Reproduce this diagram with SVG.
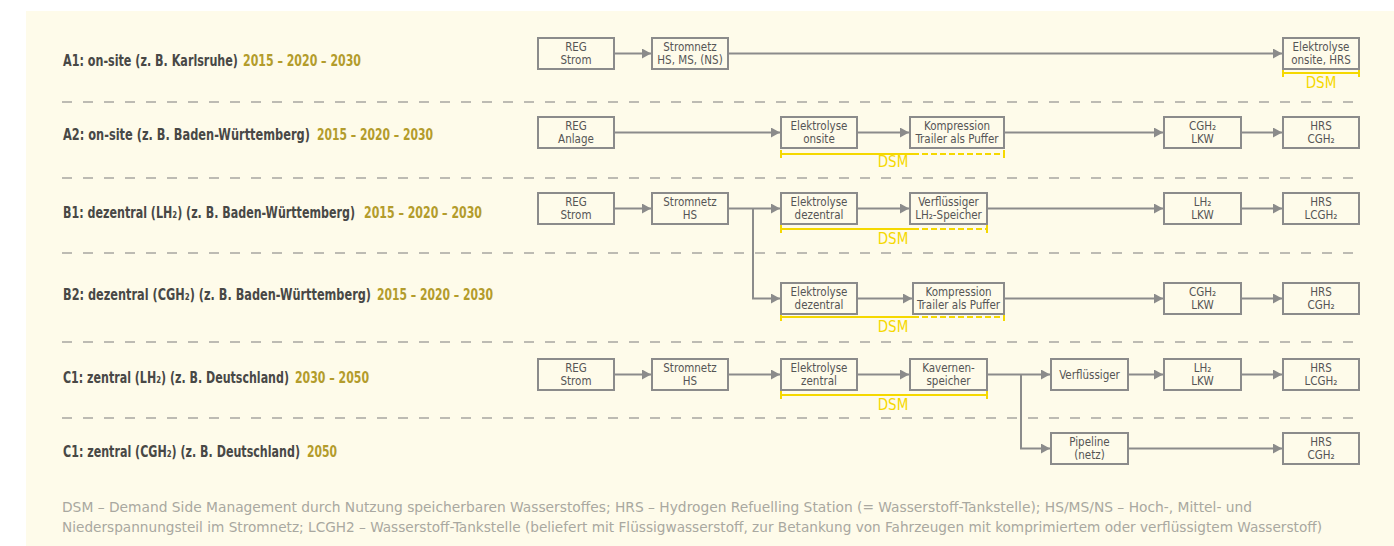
<svg xmlns="http://www.w3.org/2000/svg" width="1394" height="546" viewBox="0 0 1394 546">
<style>
.bg{fill:#FEFBEA}
.sep{stroke:#BDBBB3;stroke-width:2;stroke-dasharray:10 11;fill:none}
.lbl{font-family:"Liberation Sans Narrow","DejaVu Sans Condensed","Liberation Sans",sans-serif;font-size:15px;font-weight:bold;fill:#484846}
.yr{font-family:"Liberation Sans Narrow","DejaVu Sans Condensed","Liberation Sans",sans-serif;font-size:15px;font-weight:bold;fill:#B39C2C}
.box{fill:#FEFBEA;stroke:#8B8B8B;stroke-width:2}
.bt{font-family:"Liberation Sans Narrow","DejaVu Sans Condensed","Liberation Sans",sans-serif;font-size:11.5px;fill:#555555;text-anchor:middle}
.con{stroke:#8B8B8B;stroke-width:2;fill:none}
.arr{marker-end:url(#ah)}
.dsm{stroke:#F5D800;stroke-width:2;fill:none}
.dsmd{stroke:#F5D800;stroke-width:2;fill:none;stroke-dasharray:6 3}
.dsmt{font-family:"Liberation Sans Narrow","DejaVu Sans Condensed","Liberation Sans",sans-serif;font-size:15px;fill:#F5D800;text-anchor:middle}
.ft{font-family:"Liberation Sans Narrow","DejaVu Sans Condensed","Liberation Sans",sans-serif;font-size:13.5px;fill:#A9A8A0}
</style>
<defs>
<marker id="ah" markerUnits="userSpaceOnUse" markerWidth="9" markerHeight="10" refX="9" refY="5" orient="auto">
<path d="M0,0 L9,5 L0,10 z" fill="#8B8B8B"/>
</marker>
</defs>
<rect class="bg" x="26" y="11" width="1368" height="535"/>

<g id="separators">
<line class="sep" x1="62" y1="102" x2="1360" y2="102"/>
<line class="sep" x1="62" y1="178" x2="1360" y2="178"/>
<line class="sep" x1="62" y1="253" x2="1360" y2="253"/>
<line class="sep" x1="62" y1="342" x2="1360" y2="342"/>
<line class="sep" x1="62" y1="418" x2="1360" y2="418"/>
</g>

<g id="row-labels">
<text class="lbl" transform="translate(63,66) scale(0.75,1)" textLength="233.3" lengthAdjust="spacingAndGlyphs">A1: on-site (z. B. Karlsruhe)</text>
<text class="yr" transform="translate(243,66) scale(0.85,1)" textLength="138.8" lengthAdjust="spacingAndGlyphs">2015 – 2020 – 2030</text>
<text class="lbl" transform="translate(63,140) scale(0.75,1)" textLength="329.3" lengthAdjust="spacingAndGlyphs">A2: on-site (z. B. Baden-Württemberg)</text>
<text class="yr" transform="translate(317,140) scale(0.85,1)" textLength="136.5" lengthAdjust="spacingAndGlyphs">2015 – 2020 – 2030</text>
<text class="lbl" transform="translate(63,218) scale(0.75,1)" textLength="389.3" lengthAdjust="spacingAndGlyphs">B1: dezentral (LH₂) (z. B. Baden-Württemberg)</text>
<text class="yr" transform="translate(364,218) scale(0.85,1)" textLength="138.8" lengthAdjust="spacingAndGlyphs">2015 – 2020 – 2030</text>
<text class="lbl" transform="translate(63,300) scale(0.75,1)" textLength="410.7" lengthAdjust="spacingAndGlyphs">B2: dezentral (CGH₂) (z. B. Baden-Württemberg)</text>
<text class="yr" transform="translate(377,300) scale(0.85,1)" textLength="136.5" lengthAdjust="spacingAndGlyphs">2015 – 2020 – 2030</text>
<text class="lbl" transform="translate(63,383) scale(0.75,1)" textLength="301.3" lengthAdjust="spacingAndGlyphs">C1: zentral (LH₂) (z. B. Deutschland)</text>
<text class="yr" transform="translate(295,383) scale(0.85,1)" textLength="87.1" lengthAdjust="spacingAndGlyphs">2030 – 2050</text>
<text class="lbl" transform="translate(63,457) scale(0.75,1)" textLength="316" lengthAdjust="spacingAndGlyphs">C1: zentral (CGH₂) (z. B. Deutschland)</text>
<text class="yr" transform="translate(307,457) scale(0.85,1)" textLength="35.3" lengthAdjust="spacingAndGlyphs">2050</text>
</g>

<g id="connectors">
<line class="con arr" x1="614" y1="53.5" x2="651" y2="53.5"/>
<line class="con arr" x1="728" y1="53.5" x2="1282" y2="53.5"/>
<line class="con arr" x1="614" y1="132.5" x2="780" y2="132.5"/>
<line class="con arr" x1="857" y1="132.5" x2="909" y2="132.5"/>
<line class="con arr" x1="1004" y1="132.5" x2="1163" y2="132.5"/>
<line class="con arr" x1="1241" y1="132.5" x2="1282" y2="132.5"/>
<line class="con arr" x1="614" y1="208.5" x2="651" y2="208.5"/>
<line class="con arr" x1="728" y1="208.5" x2="780" y2="208.5"/>
<line class="con arr" x1="857" y1="208.5" x2="909" y2="208.5"/>
<line class="con arr" x1="987" y1="208.5" x2="1163" y2="208.5"/>
<line class="con arr" x1="1241" y1="208.5" x2="1282" y2="208.5"/>
<path class="con arr" d="M753,208.5 V298.5 H780"/>
<line class="con arr" x1="857" y1="298.5" x2="912" y2="298.5"/>
<line class="con arr" x1="1004" y1="298.5" x2="1163" y2="298.5"/>
<line class="con arr" x1="1241" y1="298.5" x2="1282" y2="298.5"/>
<line class="con arr" x1="614" y1="374.5" x2="651" y2="374.5"/>
<line class="con arr" x1="728" y1="374.5" x2="780" y2="374.5"/>
<line class="con arr" x1="857" y1="374.5" x2="909" y2="374.5"/>
<line class="con arr" x1="987" y1="374.5" x2="1050" y2="374.5"/>
<line class="con arr" x1="1128" y1="374.5" x2="1163" y2="374.5"/>
<line class="con arr" x1="1241" y1="374.5" x2="1282" y2="374.5"/>
<path class="con arr" d="M1021,374.5 V448.5 H1050"/>
<line class="con arr" x1="1128" y1="448.5" x2="1282" y2="448.5"/>
</g>

<g id="dsm-brackets">
<path class="dsm" d="M1283,69 V77 M1283,73 H1359 M1359,69 V77"/>
<text class="dsmt" x="1321" y="88">DSM</text>
<path class="dsm" d="M781,150 V158 M781,154 H913 M1004,150 V158"/>
<path class="dsmd" d="M913,154 H1004"/>
<text class="dsmt" x="893" y="167">DSM</text>
<path class="dsm" d="M781,225 V233 M781,229 H913 M987,225 V233"/>
<path class="dsmd" d="M913,229 H987"/>
<text class="dsmt" x="893" y="244">DSM</text>
<path class="dsm" d="M781,313 V321 M781,317 H913 M1004,313 V321"/>
<path class="dsmd" d="M913,317 H1004"/>
<text class="dsmt" x="893" y="332">DSM</text>
<path class="dsm" d="M781,391 V399 M781,395 H987 M987,391 V399"/>
<text class="dsmt" x="893" y="410">DSM</text>
</g>

<g id="a1-reg"><rect class="box" x="538" y="38" width="76" height="31"/><text class="bt" x="576" y="51">REG</text><text class="bt" x="576" y="63.5">Strom</text></g>
<g id="a1-netz"><rect class="box" x="652" y="38" width="76" height="31"/><text class="bt" x="690" y="51">Stromnetz</text><text class="bt" x="690" y="63.5">HS, MS, (NS)</text></g>
<g id="a1-elhrs"><rect class="box" x="1283" y="38" width="76" height="31"/><text class="bt" x="1321" y="51">Elektrolyse</text><text class="bt" x="1321" y="63.5">onsite, HRS</text></g>

<g id="a2-reg"><rect class="box" x="538" y="117" width="76" height="31"/><text class="bt" x="576" y="130">REG</text><text class="bt" x="576" y="142.5">Anlage</text></g>
<g id="a2-el"><rect class="box" x="781" y="117" width="76" height="31"/><text class="bt" x="819" y="130">Elektrolyse</text><text class="bt" x="819" y="142.5">onsite</text></g>
<g id="a2-komp"><rect class="box" x="910" y="117" width="94" height="31"/><text class="bt" x="957" y="130">Kompression</text><text class="bt" x="957" y="142.5">Trailer als Puffer</text></g>
<g id="a2-lkw"><rect class="box" x="1164" y="117" width="77" height="31"/><text class="bt" x="1202.5" y="130">CGH₂</text><text class="bt" x="1202.5" y="142.5">LKW</text></g>
<g id="a2-hrs"><rect class="box" x="1283" y="117" width="76" height="31"/><text class="bt" x="1321" y="130">HRS</text><text class="bt" x="1321" y="142.5">CGH₂</text></g>

<g id="b1-reg"><rect class="box" x="538" y="193" width="76" height="31"/><text class="bt" x="576" y="206">REG</text><text class="bt" x="576" y="218.5">Strom</text></g>
<g id="b1-netz"><rect class="box" x="652" y="193" width="76" height="31"/><text class="bt" x="690" y="206">Stromnetz</text><text class="bt" x="690" y="218.5">HS</text></g>
<g id="b1-el"><rect class="box" x="781" y="193" width="76" height="31"/><text class="bt" x="819" y="206">Elektrolyse</text><text class="bt" x="819" y="218.5">dezentral</text></g>
<g id="b1-verf"><rect class="box" x="910" y="193" width="77" height="31"/><text class="bt" x="948.5" y="206">Verflüssiger</text><text class="bt" x="948.5" y="218.5">LH₂-Speicher</text></g>
<g id="b1-lkw"><rect class="box" x="1164" y="193" width="77" height="31"/><text class="bt" x="1202.5" y="206">LH₂</text><text class="bt" x="1202.5" y="218.5">LKW</text></g>
<g id="b1-hrs"><rect class="box" x="1283" y="193" width="76" height="31"/><text class="bt" x="1321" y="206">HRS</text><text class="bt" x="1321" y="218.5">LCGH₂</text></g>

<g id="b2-el"><rect class="box" x="781" y="283" width="76" height="31"/><text class="bt" x="819" y="296">Elektrolyse</text><text class="bt" x="819" y="308.5">dezentral</text></g>
<g id="b2-komp"><rect class="box" x="913" y="283" width="91" height="31"/><text class="bt" x="958.5" y="296">Kompression</text><text class="bt" x="958.5" y="308.5">Trailer als Puffer</text></g>
<g id="b2-lkw"><rect class="box" x="1164" y="283" width="77" height="31"/><text class="bt" x="1202.5" y="296">CGH₂</text><text class="bt" x="1202.5" y="308.5">LKW</text></g>
<g id="b2-hrs"><rect class="box" x="1283" y="283" width="76" height="31"/><text class="bt" x="1321" y="296">HRS</text><text class="bt" x="1321" y="308.5">CGH₂</text></g>

<g id="c1-reg"><rect class="box" x="538" y="359" width="76" height="31"/><text class="bt" x="576" y="372">REG</text><text class="bt" x="576" y="384.5">Strom</text></g>
<g id="c1-netz"><rect class="box" x="652" y="359" width="76" height="31"/><text class="bt" x="690" y="372">Stromnetz</text><text class="bt" x="690" y="384.5">HS</text></g>
<g id="c1-el"><rect class="box" x="781" y="359" width="76" height="31"/><text class="bt" x="819" y="372">Elektrolyse</text><text class="bt" x="819" y="384.5">zentral</text></g>
<g id="c1-kav"><rect class="box" x="910" y="359" width="77" height="31"/><text class="bt" x="948.5" y="372">Kavernen-</text><text class="bt" x="948.5" y="384.5">speicher</text></g>
<g id="c1-verf"><rect class="box" x="1051" y="359" width="77" height="31"/><text class="bt" x="1089.5" y="378.5">Verflüssiger</text></g>
<g id="c1-lkw"><rect class="box" x="1164" y="359" width="77" height="31"/><text class="bt" x="1202.5" y="372">LH₂</text><text class="bt" x="1202.5" y="384.5">LKW</text></g>
<g id="c1-hrs"><rect class="box" x="1283" y="359" width="76" height="31"/><text class="bt" x="1321" y="372">HRS</text><text class="bt" x="1321" y="384.5">LCGH₂</text></g>

<g id="c2-pipe"><rect class="box" x="1051" y="433" width="77" height="31"/><text class="bt" x="1089.5" y="446">Pipeline</text><text class="bt" x="1089.5" y="458.5">(netz)</text></g>
<g id="c2-hrs"><rect class="box" x="1283" y="433" width="76" height="31"/><text class="bt" x="1321" y="446">HRS</text><text class="bt" x="1321" y="458.5">CGH₂</text></g>

<g id="footer">
<text class="ft" x="62" y="512" textLength="1190" lengthAdjust="spacingAndGlyphs">DSM – Demand Side Management durch Nutzung speicherbaren Wasserstoffes; HRS – Hydrogen Refuelling Station (= Wasserstoff-Tankstelle); HS/MS/NS – Hoch-, Mittel- und</text>
<text class="ft" x="62" y="532" textLength="1260" lengthAdjust="spacingAndGlyphs">Niederspannungsteil im Stromnetz; LCGH2 – Wasserstoff-Tankstelle (beliefert mit Flüssigwasserstoff, zur Betankung von Fahrzeugen mit komprimiertem oder verflüssigtem Wasserstoff)</text>
</g>
</svg>
